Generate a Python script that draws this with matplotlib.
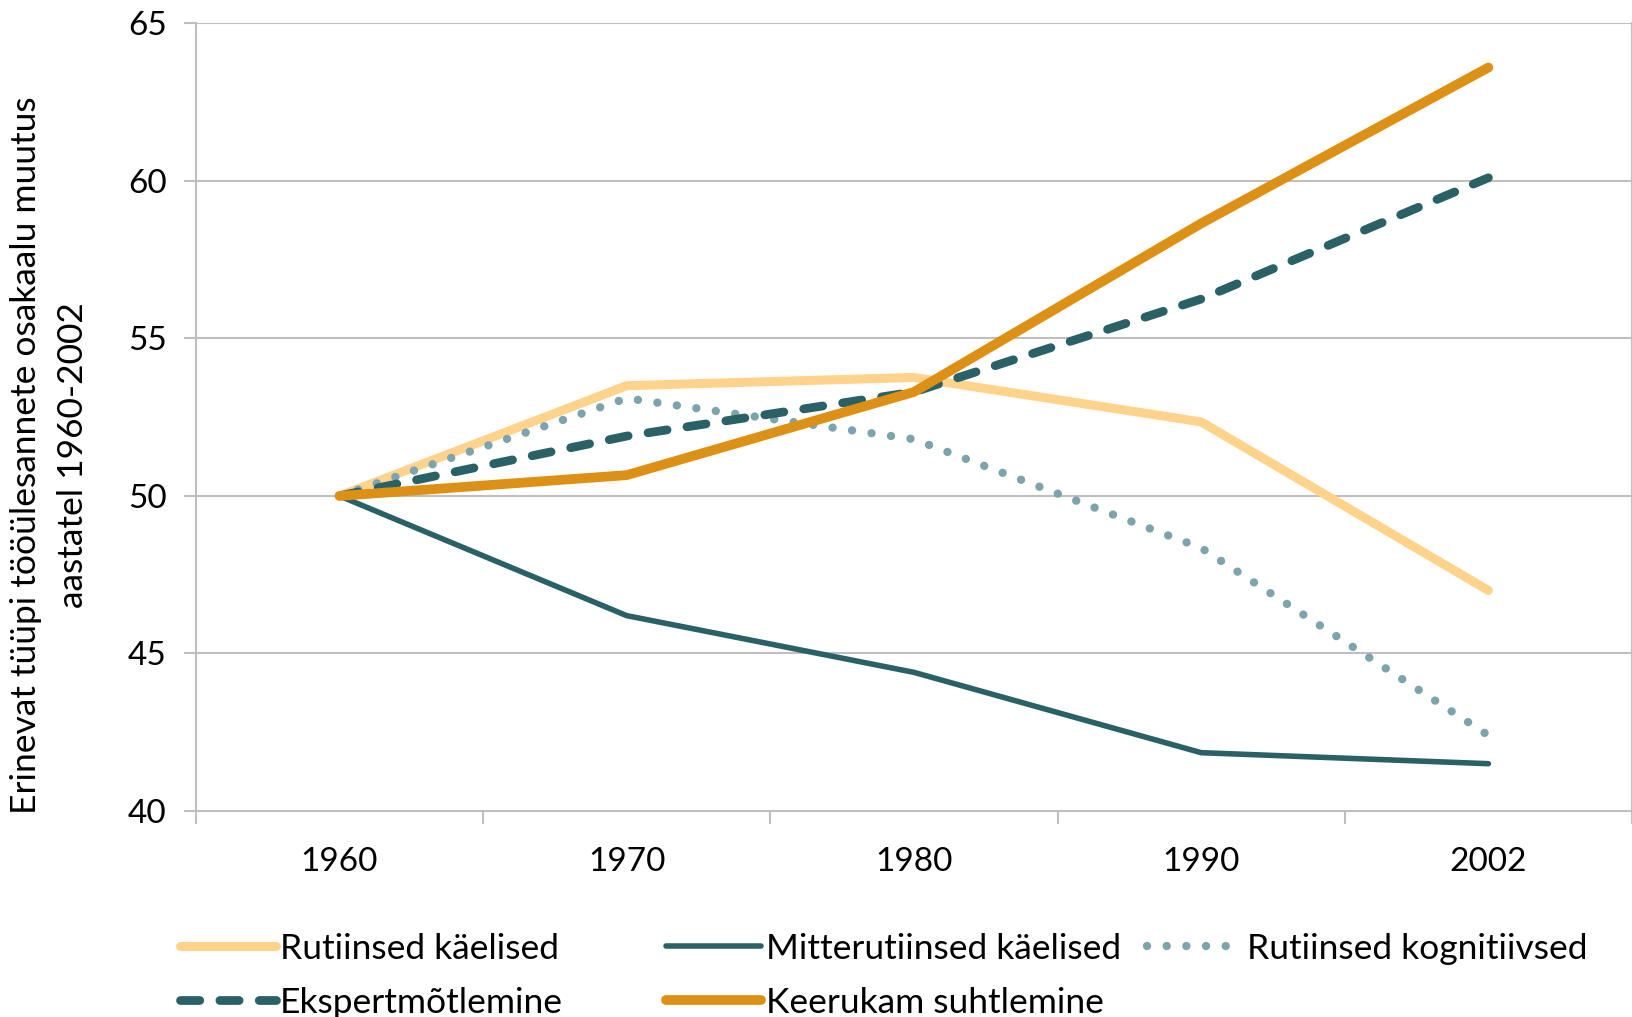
import matplotlib
matplotlib.use("Agg")
import matplotlib.pyplot as plt
import numpy as np

plt.rcParams["font.family"] = ["Lato", "DejaVu Sans"]

# data
years = ["1960", "1970", "1980", "1990", "2002"]
rutiinsed_kaelised = [50.0, 53.5, 53.76, 52.35, 47.0]
mitterutiinsed_kaelised = [50.0, 46.2, 44.4, 41.85, 41.5]
rutiinsed_kognitiivsed = [50.0, 53.1, 51.8, 48.35, 42.4]
ekspertmotlemine = [50.0, 51.9, 53.3, 56.25, 60.1]
keerukam_suhtlemine = [50.0, 50.66, 53.3, 58.65, 63.6]

ylabel = "Erinevat tüüpi tööülesannete osakaalu muutus\naastatel 1960-2002"

C_LIGHT_ORANGE = "#FFD38C"
C_DARK_TEAL = "#2A6166"
C_LIGHT_TEAL = "#7DA3AC"
C_ORANGE = "#DC9016"
C_GRID = "#BFBFBF"

fig = plt.figure(figsize=(16.32, 10.17), dpi=100)
ax = fig.add_axes([0.120, 0.2026, 0.880, 0.7744])

x = np.arange(len(years))

l_rk, = ax.plot(x, rutiinsed_kaelised, color=C_LIGHT_ORANGE, lw=6.5,
                solid_capstyle="round", solid_joinstyle="round", label="Rutiinsed käelised")
l_mk, = ax.plot(x, mitterutiinsed_kaelised, color=C_DARK_TEAL, lw=4.0,
                solid_capstyle="round", solid_joinstyle="round", label="Mitterutiinsed käelised")
l_rkog, = ax.plot(x, rutiinsed_kognitiivsed, color=C_LIGHT_TEAL, lw=6.0,
                  linestyle=(0, (0.01, 2.35)), dash_capstyle="round",
                  label="Rutiinsed kognitiivsed")
l_ek, = ax.plot(x, ekspertmotlemine, color=C_DARK_TEAL, lw=6.3,
                linestyle=(0, (2.2, 2.3)), dash_capstyle="round",
                label="Ekspertmõtlemine")
l_ks, = ax.plot(x, keerukam_suhtlemine, color=C_ORANGE, lw=7.0,
                solid_capstyle="round", solid_joinstyle="round", label="Keerukam suhtlemine")

ax.set_xlim(-0.5, len(years) - 0.5)
ax.set_ylim(40, 65)
ax.set_yticks(np.arange(40, 66, 5))
ax.yaxis.grid(True, color=C_GRID, lw=1.5)
ax.set_axisbelow(True)

ax.set_xticks(x)
ax.set_xticklabels(years)
ax.set_xticks(np.arange(-0.5, len(years), 1.0), minor=True)
ax.tick_params(axis="x", which="major", length=0, pad=26, labelsize=24)
ax.tick_params(axis="x", which="minor", length=9, width=1.5, color=C_GRID)
ax.tick_params(axis="y", length=9, width=1.5, color=C_GRID, pad=12, labelsize=24)

for side in ["left", "bottom", "right"]:
    ax.spines[side].set_color(C_GRID)
    ax.spines[side].set_linewidth(1.5)
ax.spines["top"].set_visible(False)

ax.set_ylabel(ylabel, fontsize=25.5, linespacing=1.57)
ax.yaxis.set_label_coords(-0.0745, 0.452)

# legend: three fixed-width columns like the original
legend_cols = [[l_rk, l_ek], [l_mk, l_ks], [l_rkog]]
col_x = [0.1105, 0.408, 0.703]
for hs, cx in zip(legend_cols, col_x):
    fig.legend(handles=hs, labels=[h.get_label() for h in hs],
               loc="upper left", bbox_to_anchor=(cx, 0.083), ncol=1,
               frameon=False, fontsize=25.5, handlelength=2.7,
               handletextpad=0.12, labelspacing=0.62, borderpad=0,
               borderaxespad=0)

fig.savefig("out.png", dpi=100)
